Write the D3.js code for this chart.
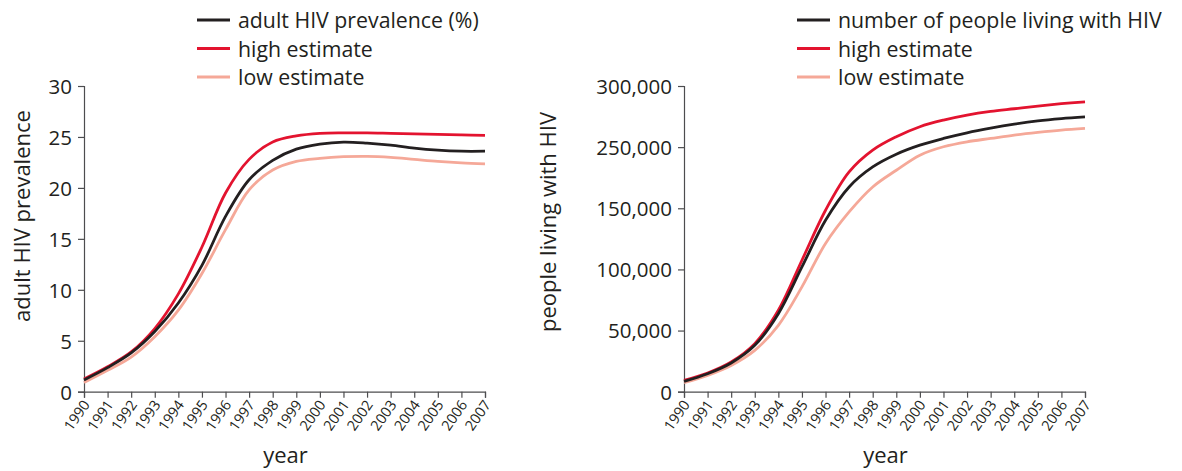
<!DOCTYPE html>
<html>
<head>
<meta charset="utf-8">
<script src="https://cdn.jsdelivr.net/npm/d3@7"></script>
<style>
  html, body { margin: 0; padding: 0; background: #fff; }
  svg { display: block; }
  text { font-family: "Open Sans", "Noto Sans", sans-serif; fill: #231f20; }
</style>
</head>
<body>
<svg id="chart" width="1182" height="471"></svg>
<script>
// ---- data ----
const years = [1990,1991,1992,1993,1994,1995,1996,1997,1998,1999,2000,2001,2002,2003,2004,2005,2006,2007];

const prevalence     = [1.15,2.36,3.8,5.9,8.7,12.4,17.2,20.8,22.7,23.8,24.3,24.5,24.4,24.2,23.9,23.7,23.6,23.6];
const prevalenceHigh = [1.25,2.45,3.9,6.2,9.6,14.2,19.5,22.8,24.5,25.1,25.35,25.4,25.4,25.35,25.3,25.25,25.2,25.15];
const prevalenceLow  = [0.9,2.1,3.4,5.4,8.0,11.6,15.9,19.8,21.75,22.6,22.9,23.06,23.1,23.0,22.8,22.6,22.45,22.35];

const people     = [8450,14700,23500,37900,63800,102000,140200,184900,217600,238400,251600,257100,261700,265500,268800,271500,273400,274800];
const peopleHigh = [9300,15300,24300,39300,66600,107500,148400,209500,245100,258500,266700,272100,276200,279200,281400,283600,285500,287100];
const peopleLow  = [7400,13400,21500,33800,54300,85700,121200,147000,184900,212200,236900,250300,254400,257100,259800,262000,263900,265300];

const prevTicks = [0,5,10,15,20,25,30];
// tick labels exactly as printed on the original axis
const peopleTicks = [0,50000,100000,150000,250000,300000];

const leftLegend  = ["adult HIV prevalence (%)", "high estimate", "low estimate"];
const rightLegend = ["number of people living with HIV", "high estimate", "low estimate"];
const colors = ["#231f20", "#e3132f", "#f5a898"];

// ---- drawing ----
const svg = d3.select("#chart");
const yTop = 86, yBot = 391.7;

function panel(opts) {
  const g = svg.append("g");
  const x = d3.scaleLinear().domain([1990, 2007]).range([opts.x0, opts.x1]);
  const y = d3.scaleLinear()
    .domain(opts.ticks)
    .range(opts.ticks.map((d, i) => yBot - i * (yBot - yTop) / (opts.ticks.length - 1)));

  // y axis
  const ya = g.append("g").attr("transform", `translate(${opts.x0},0)`)
    .call(d3.axisLeft(y).tickValues(opts.ticks).tickFormat(opts.fmt).tickSize(6).tickPadding(6));
  ya.select(".domain").attr("stroke", "#4d4d4f").attr("stroke-width", 1.2);
  ya.selectAll(".tick line").attr("stroke", "#4d4d4f").attr("stroke-width", 1.2);
  ya.selectAll(".tick text").style("font-size", "20.5px").attr("fill", "#231f20").attr("dy", "0.36em");

  // x axis
  const xa = g.append("g").attr("transform", `translate(0,${yBot})`)
    .call(d3.axisBottom(x).tickValues(years).tickFormat(d3.format("d")).tickSize(6).tickPadding(2));
  xa.select(".domain").attr("stroke", "#4d4d4f").attr("stroke-width", 1.2);
  xa.selectAll(".tick line").attr("stroke", "#4d4d4f").attr("stroke-width", 1.2);
  xa.selectAll(".tick text")
    .style("font-size", "14.5px").attr("fill", "#231f20")
    .attr("text-anchor", "end")
    .attr("dy", null).attr("y", 0)
    .attr("transform", "translate(6,13) rotate(-55)");

  // titles
  g.append("text").attr("x", (opts.x0 + opts.x1) / 2 + 1).attr("y", 463)
    .attr("text-anchor", "middle").style("font-size", "22px").text("year");
  g.append("text")
    .attr("transform", `translate(${opts.ytx},${opts.yty}) rotate(-90)`)
    .attr("text-anchor", "middle").style("font-size", "22px").text(opts.ytitle);

  // lines
  const line = d3.line().x((d, i) => x(years[i])).y(d => y(d)).curve(d3.curveCatmullRom.alpha(0.5));
  [opts.low, opts.high, opts.main].forEach((s, k) => {
    const ci = [2, 1, 0][k];
    g.append("path").datum(s).attr("d", line)
      .attr("fill", "none").attr("stroke", colors[ci]).attr("stroke-width", 2.8);
  });

  // legend
  opts.legend.forEach((t, i) => {
    const ly = 20 + i * 28.5;
    g.append("line").attr("x1", opts.lx).attr("x2", opts.lx + 33)
      .attr("y1", ly).attr("y2", ly).attr("stroke", colors[i]).attr("stroke-width", 3);
    g.append("text").attr("x", opts.lx + 41).attr("y", ly + 8)
      .style("font-size", "21.3px").text(t);
  });
}

panel({
  x0: 84, x1: 485, ticks: prevTicks, fmt: d3.format("d"),
  main: prevalence, high: prevalenceHigh, low: prevalenceLow,
  ytitle: "adult HIV prevalence", ytx: 30, yty: 216,
  legend: leftLegend, lx: 197
});
panel({
  x0: 684, x1: 1085, ticks: peopleTicks, fmt: d3.format(","),
  main: people, high: peopleHigh, low: peopleLow,
  ytitle: "people living with HIV", ytx: 556, yty: 222,
  legend: rightLegend, lx: 797
});
</script>
</body>
</html>
